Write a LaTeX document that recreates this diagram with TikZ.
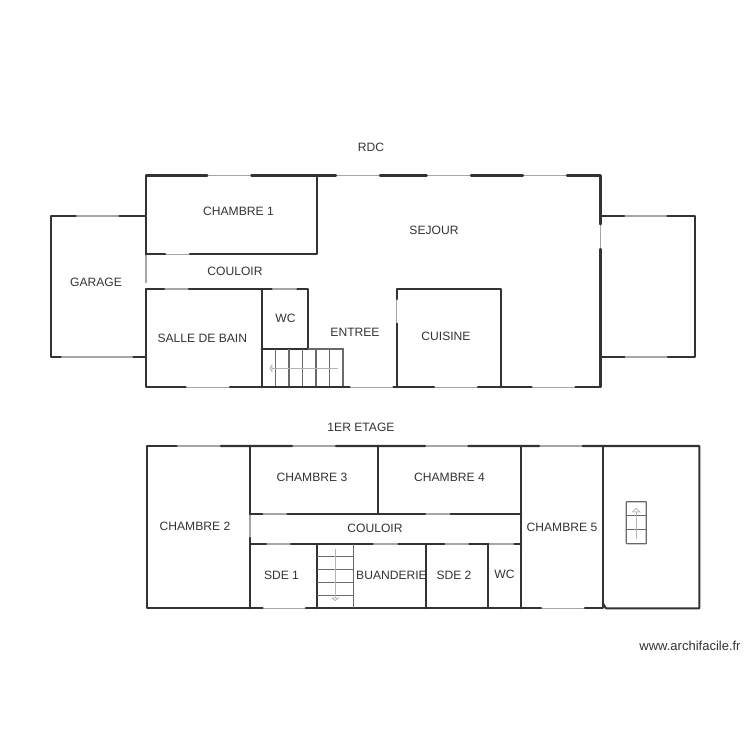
\documentclass[tikz,border=0pt]{standalone}
\usepackage{fontspec}
\setmainfont{Liberation Sans}
\definecolor{wallc}{HTML}{333333}
\definecolor{winc}{HTML}{A6A6A6}
\definecolor{arrc}{HTML}{B4B4B4}
\definecolor{stairc}{HTML}{6A6A6A}
\tikzset{
 wall/.style={draw=wallc,line width=2.1pt,line cap=round,line join=round},
 win/.style={draw=winc,line width=1.2pt},
 stairline/.style={draw=stairc,line width=1.2pt},
 stairarrow/.style={draw=arrc,line width=.8pt},
 lbl/.style={text=wallc,font=\fontsize{12.1}{14}\selectfont,inner sep=0pt},
}
\begin{document}
\begin{tikzpicture}[x=1pt,y=-1pt]
\useasboundingbox (0,0) rectangle (750,750);
% windows, ground floor
\draw[win] (207.3,175.5)--(251.3,175.5) (336,175.5)--(380,175.5) (426.7,175.5)--(471,175.5) (523,175.5)--(567,175.5);
\draw[win] (75.7,216)--(119.3,216) (60.7,357)--(133.3,357) (624,216)--(667.3,216) (624.3,357)--(668,357);
\draw[win] (165,254.3)--(190,254.3) (164,289)--(189,289) (271.7,289)--(297.3,289);
\draw[win] (185.7,387.3)--(230,387.3) (349.7,387.3)--(393.3,387.3) (434,387.3)--(478,387.3) (531.7,387.3)--(575.3,387.3);
\draw[win] (146,254.3)--(146,283) (396.7,299)--(396.7,323.7) (600.5,224.3)--(600.5,249);
% walls, ground floor
\draw[wall] (146,254.3)--(146,175.5)--(207.3,175.5) (251.3,175.5)--(336,175.5) (380,175.5)--(426.7,175.5) (471,175.5)--(523,175.5) (567,175.5)--(600.5,175.5)--(600.5,224.3);
\draw[wall] (600.5,249)--(600.5,387.3)--(575.3,387.3) (531.7,387.3)--(478,387.3) (434,387.3)--(393.3,387.3) (349.7,387.3)--(230,387.3) (185.7,387.3)--(146,387.3)--(146,289);
\draw[wall] (146,216)--(119.3,216) (75.7,216)--(51,216)--(51,357)--(60.7,357) (133.3,357)--(146,357);
\draw[wall] (600.5,216)--(624,216) (667.3,216)--(695,216)--(695,357)--(668,357) (624.3,357)--(600.5,357);
\draw[wall] (146,254.3)--(165,254.3) (190,254.3)--(317,254.3)--(317,175.5);
\draw[wall] (146,289)--(164,289) (189,289)--(271.7,289) (297.3,289)--(307.7,289)--(307.7,349);
\draw[wall] (261.7,289)--(261.7,387.3);
\draw[wall] (396.7,299)--(396.7,289)--(501,289)--(501,387.3) (396.7,323.7)--(396.7,387.3);
% stairs, ground floor
\draw[wall] (261.7,349)--(307.7,349);
\draw[stairline] (307.7,349)--(343,349)--(343,386) (275.7,349)--(275.7,386) (289,349)--(289,386) (302.7,349)--(302.7,386) (316,349)--(316,386) (329.5,349)--(329.5,386);
\draw[stairarrow] (337.7,368.3)--(272,368.3);
\draw[stairarrow] (272,365)--(270,368.3)--(272,371.6)--cycle;
% windows, upper floor
\draw[win] (176.7,446)--(221,446) (292,446)--(336,446) (425,446)--(468.3,446) (539,446)--(582.7,446);
\draw[win] (262.3,514)--(287.3,514) (425,514)--(450.7,514) (250,514)--(250,538);
\draw[win] (266,544)--(291,544) (372.7,544)--(398.3,544) (444.3,544)--(469.3,544) (488.3,544)--(514.3,544);
\draw[win] (262.7,608.3)--(306,608.3) (541,608.3)--(585,608.3);
% walls, upper floor
\draw[wall] (176.7,446)--(146.7,446)--(146.7,608.3)--(262.7,608.3) (306,608.3)--(541,608.3) (585,608.3)--(603,608.3)--(603,446);
\draw[wall] (221,446)--(292,446) (336,446)--(425,446) (468.3,446)--(539,446) (582.7,446)--(699.3,446)--(699.3,608.3)--(606,608.3)--(603,603.5);
\draw[wall] (250,514)--(250,446) (250,538)--(250,608.3);
\draw[wall] (378.3,446)--(378.3,514);
\draw[wall] (250,514)--(262.3,514) (287.3,514)--(425,514) (450.7,514)--(521.3,514);
\draw[wall] (521.3,446)--(521.3,608.3);
\draw[wall] (250,544)--(266,544) (291,544)--(372.7,544) (398.3,544)--(444.3,544) (469.3,544)--(488.3,544) (514.3,544)--(521.3,544);
\draw[wall] (317.3,544)--(317.3,608.3) (426.3,544)--(426.3,608.3) (487.7,544)--(487.7,608.3);
% stairs, upper floor
\draw[stairline] (353.7,544)--(353.7,608.3) (317.3,556.7)--(353.7,556.7) (317.3,569.3)--(353.7,569.3) (317.3,582.3)--(353.7,582.3) (317.3,595.3)--(353.7,595.3);
\draw[stairarrow] (335.3,549)--(335.3,598);
\draw[stairarrow] (332,598)--(335.3,600.5)--(338.6,598)--cycle;
% small stairs
\draw[stairline,rounded corners=.5pt] (626.3,501.7) rectangle (646.3,543.7);
\draw[stairline] (626.3,515.7)--(646.3,515.7) (626.3,529.7)--(646.3,529.7);
\draw[stairarrow] (636.3,539)--(636.3,511);
\draw[stairarrow] (632.5,512)--(636.3,508.5)--(640,512)--cycle;
% labels
\node[lbl] (rdc) at (371,147.5) {RDC};
\node[lbl] (ch1) at (238.5,211) {CHAMBRE 1};
\node[lbl] (coul1) at (235,271) {COULOIR};
\node[lbl] (gar) at (96,282) {GARAGE};
\node[lbl] (sdb) at (202.3,338) {SALLE DE BAIN};
\node[lbl] (wc1) at (285.5,318) {WC};
\node[lbl] (ent) at (355,332) {ENTREE};
\node[lbl] (sej) at (434,230) {SEJOUR};
\node[lbl] (cui) at (446,336) {CUISINE};
\node[lbl] (etg) at (361,427) {1ER ETAGE};
\node[lbl] (ch2) at (195,526) {CHAMBRE 2};
\node[lbl] (ch3) at (312,477) {CHAMBRE 3};
\node[lbl] (ch4) at (449.5,477) {CHAMBRE 4};
\node[lbl] (coul2) at (375,528) {COULOIR};
\node[lbl] (ch5) at (562,527) {CHAMBRE 5};
\node[lbl] (sde1) at (281.5,575) {SDE 1};
\node[lbl] (bua) at (391.5,575) {BUANDERIE};
\node[lbl] (sde2) at (454,575) {SDE 2};
\node[lbl] (wc2) at (504.5,574) {WC};
\node[lbl,font=\fontsize{13}{15}\selectfont] (web) at (690,645.5) {www.archifacile.fr};
\end{tikzpicture}
\end{document}
